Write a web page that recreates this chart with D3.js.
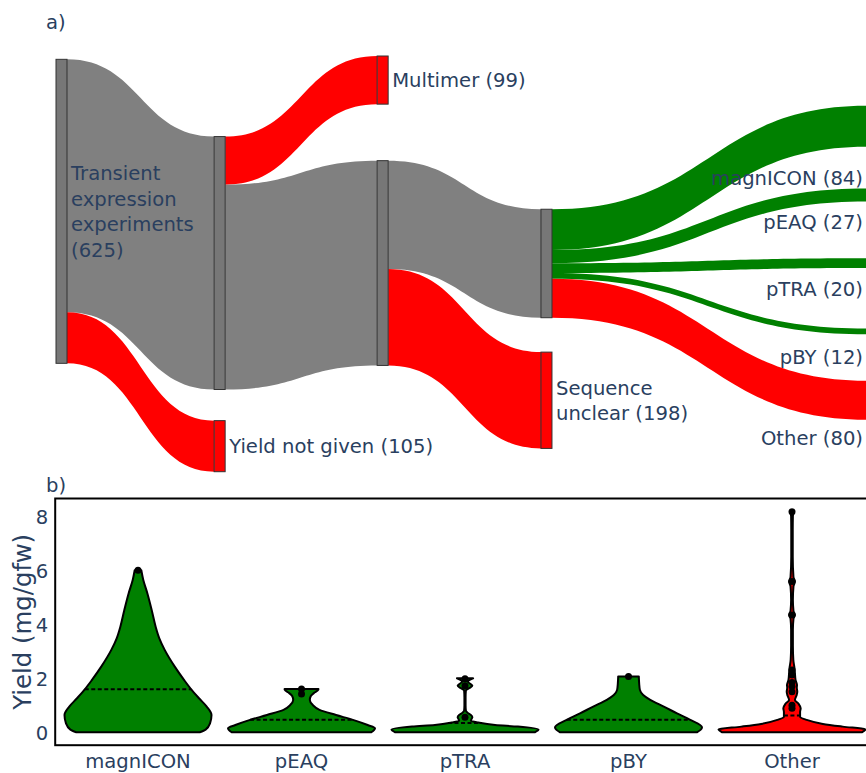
<!DOCTYPE html>
<html>
<head>
<meta charset="utf-8">
<script src="https://cdn.jsdelivr.net/npm/d3@7"></script>
<style>
  html, body { margin: 0; padding: 0; background: #fff; }
  svg { display: block; font-family: "DejaVu Sans", Verdana, sans-serif; }
</style>
</head>
<body>
<svg id="chart" width="866" height="773"></svg>
<script>
// ---------- Panel a: flow of transient expression experiments ----------
// "|" marks a line break in a node label; the count is appended after the name.
const nodeNames = ["Transient|expression|experiments|", "", "Yield not given", "Multimer", "", "",
                   "Sequence|unclear", "magnICON", "pEAQ", "pTRA", "pBY", "Other"];
const nodeKinds = ["kept", "kept", "dropped", "dropped", "kept", "kept",
                   "dropped", "vector", "vector", "vector", "vector", "dropped"];
const linkSources = [0, 0, 1, 1, 4, 4, 5, 5, 5, 5, 5];
const linkTargets = [1, 2, 3, 4, 5, 6, 7, 8, 9, 10, 11];
const linkValues  = [520, 105, 99, 421, 223, 198, 84, 27, 20, 12, 80];

// ---------- Panel b: yield per expression vector ----------
const vectors = ["magnICON", "pEAQ", "pTRA", "pBY", "Other"];
const vectorKinds = ["vector", "vector", "vector", "vector", "dropped"];
const yieldTicks = [0, 2, 4, 6, 8];
// density outlines: [yield (mg/gfw), relative density]
const magnICONDensity = [[0, 0.84], [0.1, 0.92], [0.33, 0.98], [0.64, 1.0], [0.95, 0.935], [1.26, 0.83],
  [1.57, 0.73], [1.94, 0.626], [2.43, 0.5], [3.05, 0.363], [3.48, 0.29], [3.91, 0.24], [4.53, 0.186],
  [5.15, 0.127], [5.64, 0.072], [6.0, 0.045]];
const pEAQDensity = [[0, 0.95], [0.15, 1.0], [0.27, 0.9], [0.46, 0.7], [0.64, 0.47], [0.83, 0.245],
  [1.01, 0.154], [1.2, 0.113], [1.34, 0.127], [1.47, 0.177], [1.57, 0.227], [1.6, 0.23]];
const pTRADensity = [[0, 0.95], [0.1, 1.0], [0.21, 0.72], [0.27, 0.41], [0.36, 0.18], [0.43, 0.08],
  [0.5, 0.09], [0.56, 0.1], [0.64, 0.08], [0.72, 0.035], [0.8, 0.012], [1.0, 0.008], [1.3, 0.008],
  [1.55, 0.012], [1.64, 0.06], [1.72, 0.1], [1.8, 0.07], [1.87, 0.04], [1.95, 0.07], [2.0, 0.11]];
const pBYDensity = [[0, 0.93], [0.09, 0.98], [0.19, 1.0], [0.46, 0.84], [0.7, 0.66], [0.95, 0.48],
  [1.2, 0.295], [1.38, 0.2], [1.57, 0.155], [1.81, 0.145], [2.07, 0.14]];
const otherDensity = [[0, 0.95], [0.11, 1.0], [0.21, 0.69], [0.31, 0.42], [0.46, 0.2], [0.58, 0.11],
  [0.75, 0.11], [0.89, 0.118], [1.05, 0.09], [1.2, 0.04], [1.35, 0.06], [1.5, 0.072], [1.65, 0.065],
  [1.75, 0.068], [1.94, 0.048], [2.18, 0.04], [2.37, 0.034], [2.68, 0.018], [3.2, 0.012], [3.8, 0.012],
  [4.2, 0.02], [4.34, 0.04], [4.5, 0.02], [4.9, 0.012], [5.4, 0.02], [5.58, 0.04], [5.75, 0.02],
  [6.5, 0.01], [7.5, 0.01], [8.0, 0.012], [8.17, 0.02]];
const meanYields = [1.59, 0.46, 0.34, 0.46, 0.62];
const magnICONOutliers = [6.0];
const pEAQOutliers = [1.6, 1.42];
const pTRAOutliers = [1.98, 1.72, 0.56];
const pBYOutliers = [2.07];
const otherOutliers = [8.17, 5.58, 4.34, 2.31, 2.12, 1.84, 1.7, 1.5, 1.0, 0.89];

// ---------- styling and layout ----------
const textColor = "#2a3f5f";
const fontSize = 19.6;
const kindColor = { kept: "#808080", dropped: "#ff0000", vector: "#008000" };
const nodeFill = { kept: "#777777", dropped: "#ff0000", vector: "#008000" };

// node placement as fractions of the flow area (left edge, top edge)
const nodeLayoutX = [0, 0.195, 0.195, 0.396, 0.396, 0.598, 0.598, 1, 1, 1, 1, 1];
const nodeLayoutY = [0.008, 0.194, 0.878, 0, 0.252, 0.369, 0.713, 0.120, 0.319, 0.487, 0.656, 0.782];
const nodeLabelY  = [null, null, null, null, null, null, null, 0.294, 0.400, 0.561, 0.725, 0.920];

const svg = d3.select("#chart");
svg.append("rect").attr("width", 866).attr("height", 773).attr("fill", "#fff");

// ===== Panel a =====
const colScale = d3.scaleLinear().domain([0, 1]).range([56, 867]);
const rowScale = d3.scaleLinear().domain([0, 1]).range([56, 471.3]);
const nodeWidth = 11;

const nodes = nodeNames.map((name, i) => ({ i, name, kind: nodeKinds[i], inflow: 0, outflow: 0, outs: [], ins: [] }));
const links = linkValues.map((v, i) => ({ source: nodes[linkSources[i]], target: nodes[linkTargets[i]], value: v }));
links.forEach(l => {
  l.source.outs.push(l); l.target.ins.push(l);
  l.source.outflow += l.value; l.target.inflow += l.value;
});
nodes.forEach(n => { n.value = Math.max(n.inflow, n.outflow); });
const flowScale = d3.scaleLinear().domain([0, d3.max(nodes, n => n.value)]).range([0, 304]);

nodes.forEach((n, i) => {
  n.x = colScale(nodeLayoutX[i]);
  n.y = rowScale(nodeLayoutY[i]);
  n.h = flowScale(n.value);
  let yo = n.y;
  n.outs.forEach(l => { l.y0 = yo; l.w = flowScale(l.value); yo += l.w; });
  let yi = n.y;
  n.ins.forEach(l => { l.y1 = yi; yi += flowScale(l.value); });
});

function bandPath(l) {
  const x0 = l.source.x + nodeWidth, x1 = l.target.x;
  const xm = d3.interpolateNumber(x0, x1)(0.5);
  const p = d3.path();
  p.moveTo(x0, l.y0);
  p.bezierCurveTo(xm, l.y0, xm, l.y1, x1, l.y1);
  p.lineTo(x1, l.y1 + l.w);
  p.bezierCurveTo(xm, l.y1 + l.w, xm, l.y0 + l.w, x0, l.y0 + l.w);
  p.closePath();
  return p.toString();
}

const flow = svg.append("g").attr("class", "flow");
flow.append("g").selectAll("path").data(links).join("path")
  .attr("d", bandPath)
  .attr("fill", l => kindColor[l.target.kind]);

flow.append("g").selectAll("rect").data(nodes).join("rect")
  .attr("x", n => n.x).attr("y", n => n.y)
  .attr("width", nodeWidth).attr("height", n => n.h)
  .attr("fill", n => nodeFill[n.kind])
  .attr("stroke", "#333").attr("stroke-width", 1);

const lineHeight = fontSize * 1.3;
const labelled = nodes.filter(n => n.name);
flow.append("g").selectAll("text").data(labelled).join("text")
  .attr("fill", textColor).attr("font-size", fontSize)
  .attr("text-anchor", n => nodeLayoutX[n.i] < 1 ? "start" : "end")
  .each(function (n) {
    const lines = (n.name + " (" + n.value + ")").split("|").map(s => s.trim());
    const cy = nodeLabelY[n.i] != null ? rowScale(nodeLabelY[n.i]) : n.y + n.h / 2;
    const tx = nodeLayoutX[n.i] < 1 ? n.x + nodeWidth + 4 : n.x - 4;
    const t = d3.select(this);
    lines.forEach((s, k) => {
      t.append("tspan").attr("x", tx)
        .attr("y", cy + (k - (lines.length - 1) / 2) * lineHeight + 0.36 * fontSize)
        .text(s);
    });
  });

svg.append("text").attr("x", 46).attr("y", 29).attr("fill", textColor)
  .attr("font-size", fontSize).text("a)");

// ===== Panel b =====
const plotLeft = 55.2, plotTop = 498.5, plotBottom = 745.2;
const x = d3.scaleBand().domain(vectors).range([56.25, 873.75]).padding(0);
const y = d3.scaleLinear().domain([-0.478, 8.656]).range([plotBottom, plotTop]);
const halfWidth = d3.scaleLinear().domain([0, 1]).range([0, 73.5]);

const densities = [magnICONDensity, pEAQDensity, pTRADensity, pBYDensity, otherDensity];
const outliers = [magnICONOutliers, pEAQOutliers, pTRAOutliers, pBYOutliers, otherOutliers];

const violins = svg.append("g").attr("class", "violins");
vectors.forEach((v, i) => {
  const cx = x(v) + x.bandwidth() / 2;
  const prof = densities[i];
  const area = d3.area()
    .y(d => y(d[0]))
    .x0(d => cx - halfWidth(d[1]))
    .x1(d => cx + halfWidth(d[1]))
    .curve(d3.curveMonotoneY);
  const g = violins.append("g");
  g.append("path").attr("d", area(prof))
    .attr("fill", kindColor[vectorKinds[i]])
    .attr("stroke", "#000").attr("stroke-width", 2).attr("stroke-linejoin", "round");
  // mean line spans the violin at the mean yield
  const densAt = d3.scaleLinear().domain(prof.map(d => d[0])).range(prof.map(d => d[1]));
  const m = meanYields[i];
  g.append("line")
    .attr("x1", cx - halfWidth(densAt(m))).attr("x2", cx + halfWidth(densAt(m)))
    .attr("y1", y(m)).attr("y2", y(m))
    .attr("stroke", "#000").attr("stroke-width", 2).attr("stroke-dasharray", "4,2.5");
  g.selectAll("circle").data(outliers[i]).join("circle")
    .attr("cx", cx).attr("cy", d => y(d)).attr("r", 3.5)
    .attr("fill", "#000");
});

// frame
svg.append("rect")
  .attr("x", plotLeft).attr("y", plotTop)
  .attr("width", 866 - plotLeft + 20).attr("height", plotBottom - plotTop)
  .attr("fill", "none").attr("stroke", "#000").attr("stroke-width", 2);

// y axis
const yAxis = svg.append("g").attr("transform", `translate(${plotLeft},0)`)
  .call(d3.axisLeft(y).tickValues(yieldTicks).tickSize(0).tickPadding(7).tickFormat(d3.format("d")));
yAxis.select(".domain").remove();
yAxis.attr("font-family", null).attr("font-size", null);
yAxis.selectAll("text").attr("fill", textColor).attr("font-size", fontSize).attr("dy", "0.35em");

// x axis
const xAxis = svg.append("g").attr("transform", `translate(0,${plotBottom})`)
  .call(d3.axisBottom(x).tickSize(0).tickPadding(8.9));
xAxis.select(".domain").remove();
xAxis.attr("font-family", null).attr("font-size", null);
xAxis.selectAll("text").attr("fill", textColor).attr("font-size", fontSize);

// y title
svg.append("text")
  .attr("transform", `translate(31,${(plotTop + plotBottom) / 2}) rotate(-90)`)
  .attr("text-anchor", "middle").attr("fill", textColor).attr("font-size", 24.4)
  .text("Yield (mg/gfw)");

svg.append("text").attr("x", 46).attr("y", 492.4).attr("fill", textColor)
  .attr("font-size", fontSize).text("b)");
</script>
</body>
</html>
